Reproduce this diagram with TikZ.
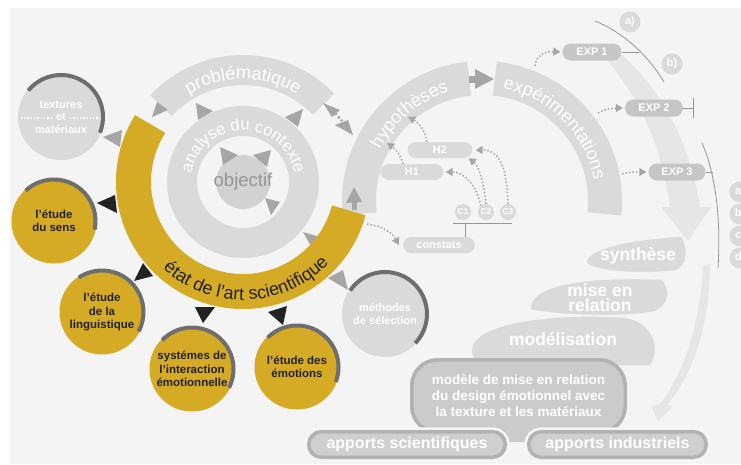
\documentclass[tikz,border=0pt]{standalone}
\usepackage{fontspec}
\setmainfont{Liberation Sans}
\usepackage{xcolor}
\definecolor{bg-gray}{RGB}{244,244,244}
\definecolor{band-gray}{RGB}{218,218,218}
\definecolor{core-gray}{RGB}{210,210,210}
\definecolor{pill-gray}{RGB}{198,198,198}
\definecolor{tip-gray}{RGB}{166,166,166}
\definecolor{pale-gray}{RGB}{230,230,230}
\definecolor{line-gray}{RGB}{150,150,150}
\definecolor{arc-gray}{RGB}{110,110,110}
\definecolor{box-gray}{RGB}{203,203,203}
\definecolor{rim-gray}{RGB}{178,178,178}
\definecolor{gold}{RGB}{213,170,36}
\definecolor{ink}{RGB}{34,34,34}
\usepackage{tikz}
\usetikzlibrary{calc,decorations.text,arrows.meta,positioning}
\tikzset{
	goldcirc/.style={circle,fill=gold,minimum size=85pt,inner sep=0pt,align=center,
		text=ink,font=\fontsize{11.5}{13.5}\selectfont\bfseries},
	graycirc/.style={circle,fill=band-gray,minimum size=86pt,inner sep=0pt,align=center,
		text=white,font=\fontsize{11}{12.5}\selectfont\bfseries},
	pill/.style={rounded corners=8.5pt,fill=pill-gray,text=white,minimum height=17pt,
		inner sep=0pt,font=\fontsize{11}{12}\selectfont\bfseries},
	ccirc/.style={circle,fill=band-gray,minimum size=16pt,inner sep=0pt,text=white,
		font=\fontsize{8.5}{9}\selectfont\bfseries},
	lblcirc/.style={circle,fill=band-gray,minimum size=21pt,inner sep=0pt,text=white,
		font=\fontsize{11}{12}\selectfont\bfseries},
	dotarrow/.style={tip-gray,line width=1.5pt,dotted,-{Triangle[length=7pt,width=8pt]}},
	thinline/.style={line-gray,line width=0.8pt},
	tri/.style={fill=tip-gray},
	blacktri/.style={fill=ink},
	circarc/.style={arc-gray,line width=4pt},
	stack/.style={fill=band-gray,draw=bg-gray,line width=1.5pt},
	stacktext/.style={text=white,align=center,font=\fontsize{17.5}{15}\selectfont\bfseries},
	modelbox/.style={rounded corners=26pt,fill=box-gray,draw=rim-gray,line width=3.5pt,
		minimum width=213.5pt,minimum height=72.5pt,inner sep=0pt,text=white,align=center,
		font=\fontsize{13.5}{16}\selectfont\bfseries},
	apport/.style={rounded corners=12.5pt,fill=band-gray!95!black,draw=rim-gray,line width=3.5pt,
		minimum height=25.5pt,inner sep=0pt,text=white,font=\fontsize{16}{16}\selectfont\bfseries,
		preaction={draw=bg-gray,line width=9pt}},
	arclabel/.style={decorate,decoration={text along path,text align=center,text={#1}}},
}
\begin{document}
\begin{tikzpicture}[x=1pt,y=1pt]
	\useasboundingbox (0,0) rectangle (741,-464);
	\fill[white] (0,0) rectangle (741,-464);
	\fill[bg-gray] (10,-8) rectangle (741,-464);
	
	% pale sweeping arrows
	\fill[pale-gray] (603,-55) .. controls (628,-85) and (660,-130) .. (670,-207)
	-- (661,-207) -- (688,-241) -- (711,-207) -- (700,-207)
	.. controls (688,-130) and (650,-75) .. (612,-47) -- cycle;
	\fill[pale-gray] (703,-266) .. controls (700,-330) and (680,-380) .. (659,-405)
	-- (651,-406) -- (658,-421) -- (673,-406) -- (667,-405)
	.. controls (690,-378) and (710,-330) .. (710,-264) -- cycle;
	
	% rings and bands
	\coordinate (ctr) at (243,-182);
	\coordinate (hc) at (482,-201);
	\draw[band-gray,line width=30pt] (ctr) circle[radius=61];
	\fill[core-gray] (ctr) circle[radius=27];
	\draw[band-gray,line width=30pt] (ctr) ++(137:112) arc[start angle=137,end angle=44,radius=112];
	\draw[band-gray,line width=34pt] (hc) ++(186:123) arc[start angle=186,end angle=96,radius=123];
	\draw[band-gray,line width=34pt] (hc) ++(84:123) arc[start angle=84,end angle=-6,radius=123];
	
	% arrowheads under the gold ring
	\fill[tri] (303,-232) -- (320,-237) -- (313,-250) -- cycle;
	\fill[tri] (348,-290) -- (328,-278) -- (343,-270) -- cycle;
	\draw[gold,line width=35pt] (ctr) ++(148:109.5) arc[start angle=148,end angle=345,radius=109.5];
	
	% gray arrowheads
	\fill[tri] (196,-103) -- (213,-111) -- (198,-120) -- cycle;
	\fill[tri] (285,-117) -- (303,-109) -- (298,-127) -- cycle;
	\fill[tri] (220,-147) -- (238,-155) -- (223,-165) -- cycle;
	\fill[tri] (253,-155) -- (271,-150) -- (267,-167) -- cycle;
	\fill[tri] (265,-198) -- (280,-202) -- (271,-215) -- cycle;
	\fill[tri] (323,-103) -- (340,-110) -- (332,-117) -- cycle;
	\fill[tri] (353,-135) -- (335,-125) -- (348,-120) -- cycle;
	\draw[tip-gray,line width=2.5pt,dotted] (335,-113) -- (342,-121);
	\fill[tri] (346,-203) -- (354,-187) -- (362,-202) -- cycle;
	\draw[tip-gray,line width=5pt] (354,-202) -- (354,-210);
	\fill[tri] (103,-137) -- (122,-130) -- (120,-147) -- cycle;
	\fill[tri] (152,-117) -- (157,-102) -- (168,-110) -- cycle;
	\draw[tip-gray,line width=7pt] (469,-79) -- (477,-79);
	\fill[tri] (475,-69) -- (494,-79) -- (475,-89) -- cycle;
	
	% text on the arcs
	\node[text=tip-gray!90!black,font=\fontsize{18.5}{18.5}\selectfont] (obj) at (ctr) {objectif};
	\path[arclabel={|\fontsize{18}{18}\selectfont\color{white}|problématique}]
	(ctr) ++(150:103) arc[start angle=150,end angle=30,radius=103];
	\path[arclabel={|\fontsize{16.5}{16.5}\selectfont\color{white}|analyse du contexte}]
	(ctr) ++(178:52) arc[start angle=178,end angle=2,radius=52];
	\path[arclabel={|\fontsize{18}{18}\selectfont\color{ink}|état de l'art scientifique}]
	(ctr) ++(200:118) arc[start angle=200,end angle=344,radius=118];
	\path[arclabel={|\fontsize{18}{18}\selectfont\color{white}|hypothèses}]
	(hc) ++(175:114) arc[start angle=175,end angle=85,radius=114];
	\path[arclabel={|\fontsize{18}{18}\selectfont\color{white}|expérimentations}]
	(hc) ++(90:114) arc[start angle=90,end angle=0,radius=114];
	
	% circles round the ring
	\node[graycirc] (tex) at (61,-117) {textures\\et\\matériaux};
	\draw[white,line width=1.3pt,dotted] ([xshift=3pt,yshift=-1pt]tex.west) -- ([xshift=-9pt,yshift=-1pt]tex.center);
	\draw[white,line width=1.3pt,dotted] ([xshift=9pt,yshift=-1pt]tex.center) -- ([xshift=-3pt,yshift=-1pt]tex.east);
	\draw[circarc] (tex.center) ++(141:42) arc[start angle=141,end angle=-22,radius=42];
	\node[graycirc] (meth) at (385,-314) {méthodes\\de sélection};
	\draw[circarc] (meth.center) ++(146:42) arc[start angle=146,end angle=-44,radius=42];
	
	\node[goldcirc] (sens) at (54,-221) {l'étude\\du sens};
	\draw[circarc] (sens.center) ++(133:41.5) arc[start angle=133,end angle=-12,radius=41.5];
	\node[goldcirc] (ling) at (102,-312) {l'étude\\de la\\linguistique};
	\draw[circarc] (ling.center) ++(124:41.5) arc[start angle=124,end angle=-28,radius=41.5];
	\node[goldcirc] (syst) at (192,-369) {systémes de\\l'interaction\\émotionnelle};
	\draw[circarc] (syst.center) ++(136:41.5) arc[start angle=136,end angle=-27,radius=41.5];
	\node[goldcirc] (emo) at (297,-367) {l'étude des\\émotions};
	\draw[circarc] (emo.center) ++(135:41.5) arc[start angle=135,end angle=-21,radius=41.5];
	
	\fill[blacktri] (97,-203) -- (115,-195) -- (117,-213) -- cycle;
	\fill[blacktri] (134,-281) -- (143,-263) -- (153,-276) -- cycle;
	\fill[blacktri] (203,-323) -- (195,-307) -- (215,-307) -- cycle;
	\fill[blacktri] (283,-325) -- (268,-312) -- (287,-306) -- cycle;
	
	% hypotheses and constats
	\node[pill,fill=band-gray,minimum width=63pt,minimum height=16pt] (h1) at (412,-172) {H1};
	\node[pill,fill=band-gray,minimum width=65pt,minimum height=16pt] (h2) at (440,-150) {H2};
	\node[ccirc] (c1) at (463,-212) {C1};
	\node[ccirc] (c2) at (486,-212) {C2};
	\node[ccirc] (c3) at (508,-212) {C3};
	\node[pill,fill=band-gray,minimum width=72pt,minimum height=16pt] (const) at (439,-245) {constats};
	\coordinate (cbar) at (465,-223);
	\draw[thinline] (453,-223) -- (512,-223);
	\draw[thinline] (cbar) -- (cbar |- const.north);
	
	\coordinate (goldend) at (367,-224);
	\coordinate (hypA) at (387,-143);
	\coordinate (hypB) at (408,-117);
	\draw[dotarrow] (goldend) .. controls (382,-226) and (392,-232) .. ([xshift=-4pt]const.west);
	\draw[dotarrow] (c2.130) .. controls (476,-182) and (462,-172) .. ([xshift=2pt]h1.east);
	\draw[dotarrow] (c2.north) .. controls (484,-182) and (478,-165) .. ([xshift=-4pt]h2.south east);
	\draw[dotarrow] (c3.north) .. controls (507,-168) and (500,-150) .. ([xshift=3pt]h2.east);
	\draw[dotarrow] ([xshift=-9pt]h1.north) .. controls (400,-153) and (394,-148) .. (hypA);
	\draw[dotarrow] ([xshift=-13pt]h2.north) .. controls (425,-128) and (416,-121) .. (hypB);
	
	% experiments
	\node[pill,minimum width=59pt] (exp1) at (592,-52) {EXP 1};
	\node[pill,minimum width=58pt] (exp2) at (654,-108) {EXP 2};
	\node[pill,minimum width=57pt] (exp3) at (677,-172) {EXP 3};
	\coordinate (expA) at (535,-66);
	\coordinate (expB) at (598,-113);
	\coordinate (expC) at (622,-174);
	\draw[dotarrow] (expA) .. controls (536,-56) and (544,-51) .. ([xshift=-2pt]exp1.west);
	\draw[dotarrow] (expB) .. controls (605,-109) and (612,-108) .. ([xshift=-2pt]exp2.west);
	\draw[dotarrow] (expC) .. controls (630,-172) .. ([xshift=-2pt]exp3.west);
	
	\draw[thinline] (595,-21) .. controls (625,-33) and (650,-58) .. (664,-82);
	\draw[thinline] (exp1.east) -- ++(17,0);
	\draw[thinline] (exp2.east) -- ++(10,0);
	\draw[thinline] ([xshift=10pt]exp2.east) ++(0,10) -- ++(0,-20);
	\draw[thinline] (702,-143) .. controls (716,-175) and (721,-220) .. (718,-268);
	\draw[thinline] (exp3.east) -- ++(7,0);
	\node[lblcirc] (la) at (630,-22) {a)};
	\node[lblcirc] (lb) at (672,-64) {b)};
	\node[lblcirc] (ra) at (740,-192) {a)};
	\node[lblcirc] (rb) at (740,-214) {b)};
	\node[lblcirc] (rc) at (740,-236) {c)};
	\node[lblcirc] (rd) at (740,-258) {d)};
	
	% stack of results
	\path[stack] (472,-345) .. controls (480,-325) and (540,-312) .. (625,-317)
	.. controls (655,-322) and (662,-350) .. (650,-366) -- (478,-366)
	.. controls (472,-360) and (470,-352) .. cycle;
	\path[stack] (530,-310) .. controls (528,-285) and (580,-276) .. (662,-279)
	.. controls (672,-290) and (670,-305) .. (655,-312)
	.. controls (620,-318) and (560,-316) .. cycle;
	\path[stack] (586,-262) .. controls (586,-247) and (640,-238) .. (682,-236)
	.. controls (688,-248) and (690,-266) .. (675,-271)
	.. controls (640,-275) and (590,-272) .. cycle;
	\node[stacktext] (synth) at (638,-256) {synthèse};
	\node[stacktext] (rel) at (600,-298) {mise en\\relation};
	\node[stacktext] (modl) at (563,-339) {modélisation};
	
	\node[modelbox] (model) at (518.5,-396) {modèle de mise en relation\\du design émotionnel avec\\la texture et les matériaux};
	\fill[box-gray] (505,-428) rectangle (530,-442);
	\node[apport,minimum width=196.5pt] (sci) at (407,-444.5) {apports scientifiques};
	\node[apport,minimum width=177.5pt] (ind) at (617.5,-444.5) {apports industriels};
\end{tikzpicture}
\end{document}
